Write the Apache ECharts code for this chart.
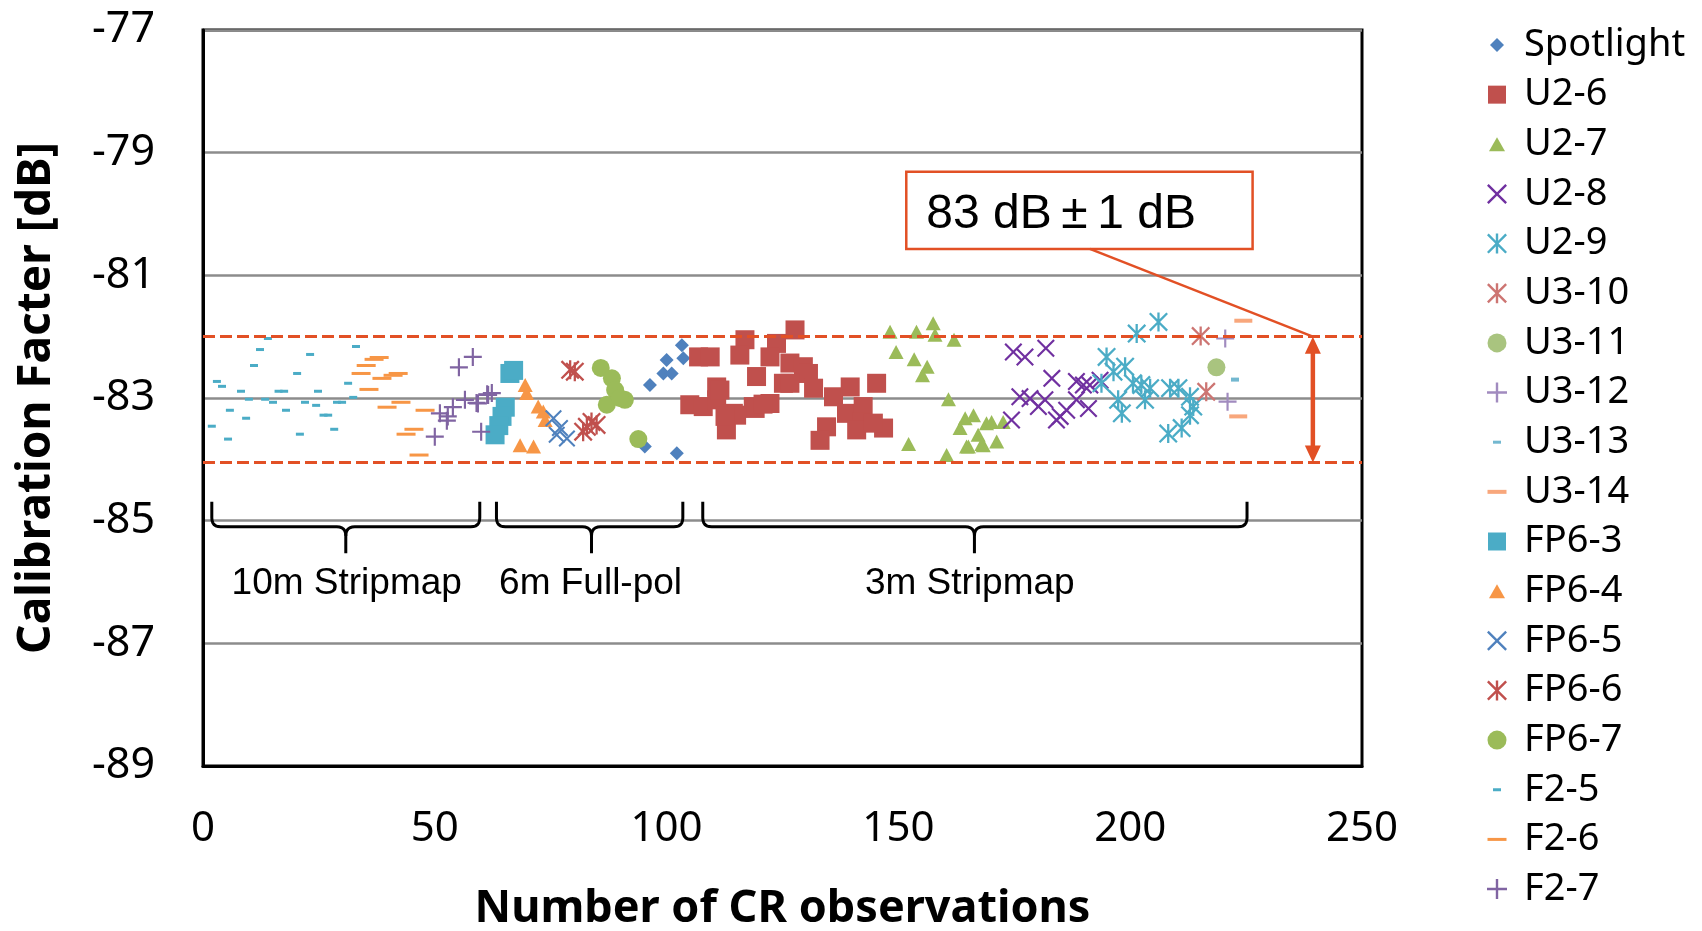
<!DOCTYPE html>
<html lang="en">
<head>
<meta charset="UTF-8">
<title>Calibration Facter</title>
<style>
  html, body, #chart { margin: 0; padding: 0; width: 100%; height: 100%; background: #fff; overflow: hidden; }
</style>
</head>
<body>
<div id="chart"></div>
<script src="https://cdn.jsdelivr.net/npm/echarts@6/dist/echarts.min.js"></script>
<script>
// ---- data: [observation number, calibration factor dB] ----
var spotlight = [[96.4,-82.79],[99.3,-82.6],[101.1,-82.6],[100.0,-82.38],[103.3,-82.14],[103.6,-82.35],[95.3,-83.79],[102.2,-83.9]];
var u2_6 = [[106.9,-82.33],[109.4,-82.33],[116.9,-82.05],[115.8,-82.30],[123.7,-82.11],[122.3,-82.33],[119.4,-82.65],[125.2,-82.76],
  [110.8,-82.82],[105.0,-83.11],[107.9,-83.14],[110.8,-83.03],[114.4,-83.25],[118.7,-83.14],[122.3,-83.09],[112.9,-83.52],
  [127.7,-81.89],[111.5,-82.87],[126.6,-82.43],[129.5,-82.49],[130.6,-82.60],[126.6,-82.76],[131.7,-82.84],[136.0,-82.98],
  [139.6,-82.82],[145.3,-82.76],[119.1,-83.17],[115.1,-83.28],[134.5,-83.47],[133.1,-83.69],[138.8,-83.25],[142.4,-83.14],
  [142.1,-83.39],[141.0,-83.52],[146.8,-83.49],[144.6,-83.41],[112.6,-83.3],[120.8,-83.1]];
var u2_7 = [[148.2,-81.92],[153.9,-81.92],[157.5,-81.78],[157.9,-81.97],[162.0,-82.05],[149.5,-82.25],[153.4,-82.37],[156.2,-82.49],
  [155.2,-82.63],[160.8,-83.02],[164.4,-83.33],[166.2,-83.28],[163.3,-83.49],[169.0,-83.41],[170.1,-83.39],[167.2,-83.60],
  [165.1,-83.79],[168.3,-83.77],[171.2,-83.71],[152.2,-83.75],[160.4,-83.93],[172.6,-83.39],[164.7,-83.79],[168.0,-83.75]];
var u2_8 = [[174.8,-82.25],[177.3,-82.33],[181.8,-82.19],[183.1,-82.68],[176.2,-82.98],[178.4,-83.01],[181.6,-83.03],[180.2,-83.14],
  [174.4,-83.36],[184.9,-83.30],[186.3,-83.20],[184.1,-83.36],[188.4,-82.73],[189.9,-82.79],[191.3,-82.79],[193.5,-82.71],
  [191.0,-83.17],[188.4,-83.03]];
var u2_9 = [[201.4,-81.95],[206.1,-81.76],[194.9,-82.33],[196.4,-82.57],[198.9,-82.49],[193.8,-82.76],[200.6,-82.76],[202.4,-82.79],
  [204.3,-82.84],[208.6,-82.84],[210.4,-82.84],[197.4,-83.03],[203.2,-83.03],[212.9,-82.98],[198.2,-83.25],[213.6,-83.14],
  [212.9,-83.28],[208.2,-83.58],[211.1,-83.49]];
var u3_10 = [[215.2,-81.99],[216.4,-82.90]];
var u3_11 = [[218.6,-82.50]];
var u3_12 = [[220.5,-82.03],[221.0,-83.06]];
var u3_13 = [[222.6,-82.70]];
var u3_14 = [[224.4,-81.74],[223.3,-83.30]];
var fp6_3 = [[66.2,-82.6],[67.0,-82.55],[65.2,-83.15],[64.5,-83.3],[63.8,-83.45],[63.0,-83.6]];
var fp6_4 = [[69.5,-82.79],[69.8,-82.92],[72.3,-83.14],[73.4,-83.22],[73.8,-83.36],[68.4,-83.77],[71.3,-83.79]];
var fp6_5 = [[75.6,-83.33],[76.3,-83.6],[78.5,-83.66],[77.0,-83.49]];
var fp6_6 = [[79.2,-82.54],[80.2,-82.57],[82.8,-83.47],[84.9,-83.44],[82.0,-83.55],[83.8,-83.39]];
var fp6_7 = [[85.8,-82.51],[88.2,-82.68],[88.9,-82.87],[91.0,-83.03],[87.1,-83.11],[89.9,-83.0],[93.9,-83.67]];
var f2_5 = [[14.0,-82.03],[12.3,-82.21],[11.0,-82.47],[3.0,-82.73],[4.1,-82.81],[8.2,-82.89],[9.9,-83.02],[13.4,-83.02],
  [15.1,-83.07],[16.3,-82.89],[17.5,-82.89],[5.8,-83.2],[9.3,-83.33],[1.9,-83.46],[5.4,-83.67],[17.9,-83.2],[20.3,-82.6],
  [23.1,-82.29],[22.0,-83.07],[24.4,-83.12],[24.8,-82.89],[20.9,-83.59],[26.0,-83.28],[27.0,-83.28],[28.3,-83.51],
  [28.9,-83.07],[30.0,-83.07],[31.3,-82.76],[32.4,-82.99],[33.0,-82.16]];
var f2_6 = [[38.0,-82.34],[36.9,-82.37],[35.2,-82.47],[34.1,-82.6],[42.1,-82.6],[41.0,-82.63],[38.6,-82.68],[35.8,-82.86],
  [42.7,-83.07],[39.7,-83.15],[47.9,-83.2],[45.5,-83.51],[43.8,-83.59],[46.6,-83.93]];
var f2_7 = [[58.2,-82.33],[55.2,-82.5],[61.3,-82.94],[62.3,-82.92],[59.3,-83.09],[56.5,-83.03],[53.9,-83.15],[51.1,-83.25],
  [52.8,-83.3],[52.6,-83.37],[50.0,-83.63],[60.0,-83.55],[61.5,-82.95],[59.0,-83.08]];

var yTicks = [-89, -87, -85, -83, -81, -79, -77];
var limitLines = [-82, -84.05];
// annotation anchors in data units
var brackets = [
  { from: 1.9, to: 59.7, mid: 30.8, label: '10m Stripmap', labelX: 31.0 },
  { from: 63.3, to: 103.5, mid: 83.8, label: '6m Full-pol', labelX: 83.6 },
  { from: 107.8, to: 225.2, mid: 166.4, label: '3m Stripmap', labelX: 165.4 }
];
var bracketY = [-84.69, -85.1, -85.53, -86.0]; // top, bar, tip, label
var calloutBox = [151.7, -79.31, 226.4, -80.57];
var calloutText = '83 dB\u2009\u00b1\u20091 dB';
var arrowX = 239.4;

// ---- marker shapes ----
var P_X = 'path://M0,1.7L1.7,0L10,8.3L18.3,0L20,1.7L11.7,10L20,18.3L18.3,20L10,11.7L1.7,20L0,18.3L8.3,10Z';
var P_STAR = 'path://M0,1.7L1.7,0L10,8.3L18.3,0L20,1.7L11.7,10L20,18.3L18.3,20L10,11.7L1.7,20L0,18.3L8.3,10Z M8.8,0H11.2V20H8.8Z';
var P_PLUS = 'path://M8.8,0H11.2V8.8H20V11.2H11.2V20H8.8V11.2H0V8.8H8.8Z';
var BOX = 'path://M0,0M20,20';
var I_DIAMOND = BOX + 'M10,3L17,10L10,17L3,10Z';
var I_SQUARE = BOX + 'M1,1H19V19H1Z';
var I_TRI = BOX + 'M10,3L18,17H2Z';
var I_CIRCLE = BOX + 'M10,0.5A9.5,9.5 0 1,1 10,19.5A9.5,9.5 0 1,1 10,0.5Z';
var I_DASH_S = BOX + 'M6,8.5H14V11.5H6Z';
var I_DASH_L = BOX + 'M0.5,8.5H19.5V11.5H0.5Z';
var I_DASH_LT = BOX + 'M0.5,8H19.5V12H0.5Z';

var defs = [
  ['Spotlight', spotlight, 'diamond', 14, '#4F81BD', I_DIAMOND],
  ['U2-6', u2_6, 'rect', 19, '#C0504D', I_SQUARE],
  ['U2-7', u2_7, 'triangle', [15, 14], '#9BBB59', I_TRI],
  ['U2-8', u2_8, P_X, 18, '#7030A0', P_X],
  ['U2-9', u2_9, P_STAR, 19, '#4BACC6', P_STAR],
  ['U3-10', u3_10, P_STAR, 19, '#CD7572', P_STAR],
  ['U3-11', u3_11, 'circle', 18, '#A9C47F', I_CIRCLE],
  ['U3-12', u3_12, P_PLUS, 18, '#A18BBF', P_PLUS],
  ['U3-13', u3_13, 'rect', [8, 4], '#73B8D0', I_DASH_S],
  ['U3-14', u3_14, 'rect', [18, 4], '#F8A77C', I_DASH_LT],
  ['FP6-3', fp6_3, 'rect', 19, '#4BACC6', I_SQUARE],
  ['FP6-4', fp6_4, 'triangle', [15, 14], '#F79646', I_TRI],
  ['FP6-5', fp6_5, P_X, 17, '#4F81BD', P_X],
  ['FP6-6', fp6_6, P_STAR, 19, '#C0504D', P_STAR],
  ['FP6-7', fp6_7, 'circle', 18, '#9BBB59', I_CIRCLE],
  ['F2-5', f2_5, 'rect', [8, 3], '#4BACC6', I_DASH_S],
  ['F2-6', f2_6, 'rect', [19, 3], '#F79646', I_DASH_L],
  ['F2-7', f2_7, P_PLUS, 18, '#8064A2', P_PLUS]
];

var RED = '#E25025';
var FONT = 'Noto Sans';
var ARIAL = 'Liberation Sans';

var series = defs.map(function (d, i) {
  var s = {
    name: d[0], type: 'scatter', data: d[1], symbol: d[2], symbolSize: d[3],
    itemStyle: { color: d[4], opacity: 1 },
    emphasis: { disabled: true }, z: 3
  };
  if (i === 0) {
    s.markLine = {
      silent: true, symbol: 'none', label: { show: false },
      lineStyle: { color: RED, width: 3, type: [12, 5] },
      data: limitLines.map(function (v) { return { yAxis: v }; })
    };
  }
  return s;
});

var chart = echarts.init(document.getElementById('chart'), null, { renderer: 'canvas' });

chart.setOption({
  animation: false,
  backgroundColor: '#fff',
  grid: { left: 203, top: 30, right: 340, bottom: 165, outerBoundsMode: 'none', containLabel: false,
    show: true, borderColor: '#000', borderWidth: 3, backgroundColor: 'transparent' },
  xAxis: {
    type: 'value', min: 0, max: 250, interval: 50,
    name: 'Number of CR observations', nameLocation: 'middle', nameGap: 121,
    nameTextStyle: { fontFamily: FONT, fontWeight: 'bold', fontSize: 45, color: '#000' },
    axisLine: { lineStyle: { color: '#000', width: 3 } },
    axisTick: { show: false },
    axisLabel: { fontFamily: FONT, fontSize: 42, color: '#000', margin: 42 },
    splitLine: { show: false }
  },
  yAxis: {
    type: 'value', min: -89, max: -77,
    name: 'Calibration Facter [dB]', nameLocation: 'middle', nameGap: 143,
    nameTextStyle: { fontFamily: FONT, fontWeight: 'bold', fontSize: 46, color: '#000' },
    axisLine: { show: true, lineStyle: { color: '#000', width: 3 } },
    axisTick: { show: false, customValues: yTicks },
    axisLabel: { fontFamily: FONT, fontSize: 43, color: '#000', margin: 48, customValues: yTicks },
    splitLine: { show: true, lineStyle: { color: '#8C8C8C', width: 2.5 } }
  },
  legend: {
    orient: 'vertical', left: 1487, top: 25, padding: 0,
    itemWidth: 44, itemHeight: 20, itemGap: 9.65,
    textStyle: { fontFamily: FONT, fontSize: 38, lineHeight: 40, color: '#000' },
    data: defs.map(function (d) { return { name: d[0], icon: d[5] }; })
  },
  series: series
});

// ---- annotations placed from data coordinates ----
function px(x, y) { return chart.convertToPixel({ gridIndex: 0 }, [x, y]); }

function quad(pts, p0, c, p1, n) {
  for (var k = 1; k <= n; k++) {
    var t = k / n, a = (1 - t) * (1 - t), b = 2 * (1 - t) * t, e = t * t;
    pts.push([a * p0[0] + b * c[0] + e * p1[0], a * p0[1] + b * c[1] + e * p1[1]]);
  }
}

var graphics = [];
var r = 9;
brackets.forEach(function (b) {
  var x1 = px(b.from, 0)[0], x2 = px(b.to, 0)[0], cx = px(b.mid, 0)[0];
  var yt = px(0, bracketY[0])[1], ym = px(0, bracketY[1])[1], yb = px(0, bracketY[2])[1];
  var left = [[x1, yt], [x1, ym - r]];
  quad(left, [x1, ym - r], [x1, ym], [x1 + r, ym], 6);
  left.push([cx - r, ym]);
  quad(left, [cx - r, ym], [cx, ym], [cx, ym + r], 6);
  left.push([cx, yb]);
  var right = [[x2, yt], [x2, ym - r]];
  quad(right, [x2, ym - r], [x2, ym], [x2 - r, ym], 6);
  right.push([cx + r, ym]);
  quad(right, [cx + r, ym], [cx, ym], [cx, ym + r], 6);
  [left, right].forEach(function (pts) {
    graphics.push({ type: 'polyline', z: 10, shape: { points: pts }, style: { stroke: '#000', lineWidth: 3, fill: null } });
  });
  var lp = px(b.labelX, bracketY[3]);
  graphics.push({ type: 'text', z: 10, x: lp[0], y: lp[1] + 2,
    style: { text: b.label, font: '37px "' + ARIAL + '"', fill: '#000', align: 'center', verticalAlign: 'middle' } });
});

// callout box
var b0 = px(calloutBox[0], calloutBox[1]), b1 = px(calloutBox[2], calloutBox[3]);
graphics.push({ type: 'rect', z: 10, shape: { x: b0[0], y: b0[1], width: b1[0] - b0[0], height: b1[1] - b0[1] },
  style: { fill: '#fff', stroke: RED, lineWidth: 2.5 } });
graphics.push({ type: 'text', z: 11, x: b0[0] + 20, y: (b0[1] + b1[1]) / 2 + 4,
  style: { text: calloutText, font: '48px "' + ARIAL + '"', fill: '#000', align: 'left', verticalAlign: 'middle' } });

// leader line from box to arrow top
var a0 = px(arrowX, limitLines[0]), a1 = px(arrowX, limitLines[1]);
var lx = px(191.3, calloutBox[3]);
graphics.push({ type: 'line', z: 10, shape: { x1: lx[0], y1: lx[1], x2: a0[0], y2: a0[1] }, style: { stroke: RED, lineWidth: 2.5 } });

// double-headed arrow
var ah = 17, aw = 8;
graphics.push({ type: 'line', z: 10, shape: { x1: a0[0], y1: a0[1] + ah - 2, x2: a1[0], y2: a1[1] - ah + 2 }, style: { stroke: RED, lineWidth: 4.5 } });
graphics.push({ type: 'polygon', z: 10, shape: { points: [[a0[0], a0[1]], [a0[0] + aw, a0[1] + ah], [a0[0] - aw, a0[1] + ah]] }, style: { fill: RED } });
graphics.push({ type: 'polygon', z: 10, shape: { points: [[a1[0], a1[1]], [a1[0] + aw, a1[1] - ah], [a1[0] - aw, a1[1] - ah]] }, style: { fill: RED } });

chart.setOption({ graphic: graphics });
</script>
</body>
</html>
